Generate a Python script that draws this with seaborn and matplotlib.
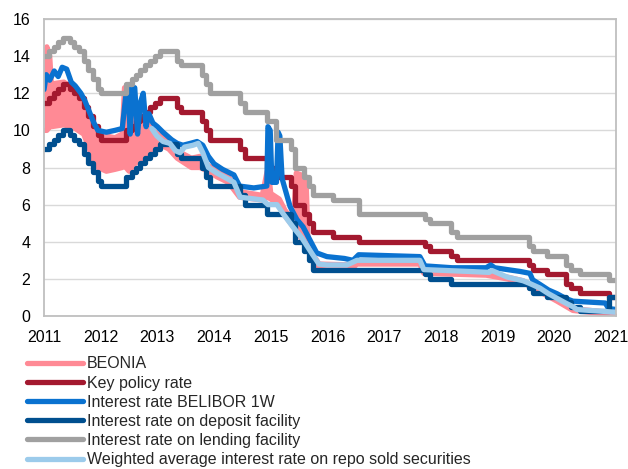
import numpy as np
import pandas as pd
import matplotlib
matplotlib.use('Agg')
import matplotlib.pyplot as plt
import seaborn as sns
from matplotlib.lines import Line2D

# decimal years, values in %
key_dates = [2011.00, 2011.08, 2011.17, 2011.25, 2011.33, 2011.45, 2011.53, 2011.62, 2011.70, 2011.78,
             2011.87, 2011.95, 2012.00, 2012.45, 2012.55, 2012.62, 2012.70, 2012.79, 2012.87, 2012.95,
             2013.05, 2013.35, 2013.42, 2013.78, 2013.85, 2013.92, 2014.45, 2014.55, 2014.93, 2015.10,
             2015.35, 2015.42, 2015.58, 2015.67, 2015.75, 2016.10, 2016.55, 2017.72, 2017.80, 2018.18,
             2018.28, 2019.55, 2019.63, 2019.87, 2020.20, 2020.30, 2020.45, 2020.96, 2021.10]
key_rate = [11.5, 11.75, 12.0, 12.25, 12.5, 12.25, 12.0, 11.75, 11.25, 10.75,
            10.25, 9.75, 9.5, 10.0, 10.25, 10.5, 10.75, 11.0, 11.25, 11.5,
            11.75, 11.25, 11.0, 10.5, 10.0, 9.5, 9.0, 8.5, 8.0, 7.5,
            7.0, 6.0, 5.5, 5.0, 4.5, 4.25, 4.0, 3.75, 3.5, 3.25,
            3.0, 2.75, 2.5, 2.25, 1.75, 1.5, 1.25, 1.0, 1.0]
lending_rate = [14.0, 14.25, 14.5, 14.75, 15.0, 14.75, 14.5, 14.25, 13.75, 13.25,
                12.75, 12.25, 12.0, 12.5, 12.75, 13.0, 13.25, 13.5, 13.75, 14.0,
                14.25, 13.75, 13.5, 13.0, 12.5, 12.0, 11.5, 11.0, 10.5, 9.5,
                9.0, 8.0, 7.5, 7.0, 6.5, 6.25, 5.5, 5.25, 5.0, 4.5,
                4.25, 3.75, 3.5, 3.25, 2.75, 2.5, 2.25, 1.95, 1.95]
deposit_rate = [9.0, 9.25, 9.5, 9.75, 10.0, 9.75, 9.5, 9.25, 8.75, 8.25,
                7.75, 7.25, 7.0, 7.5, 7.75, 8.0, 8.25, 8.5, 8.75, 9.0,
                9.25, 8.75, 8.5, 8.0, 7.5, 7.0, 6.5, 6.0, 5.5, 5.5,
                5.0, 4.0, 3.5, 3.0, 2.5, 2.5, 2.5, 2.25, 2.0, 1.75,
                1.75, 1.5, 1.25, 1.0, 0.75, 0.5, 0.25, 1.0, 1.0]

belibor_dates = [2011.00, 2011.04, 2011.10, 2011.18, 2011.25, 2011.32, 2011.40, 2011.48, 2011.55, 2011.65,
                 2011.72, 2011.80, 2011.88, 2011.95, 2012.10, 2012.25, 2012.38, 2012.44, 2012.48, 2012.52,
                 2012.56, 2012.60, 2012.65, 2012.70, 2012.75, 2012.80, 2012.85, 2012.92, 2013.00, 2013.10,
                 2013.25, 2013.35, 2013.45, 2013.58, 2013.70, 2013.80, 2013.90, 2014.00, 2014.15, 2014.35,
                 2014.45, 2014.70, 2014.93, 2014.95, 2014.99, 2015.02, 2015.10, 2015.13, 2015.16, 2015.20,
                 2015.34, 2015.46, 2015.57, 2015.69, 2015.81, 2015.99, 2016.30, 2016.45, 2016.55, 2017.63,
                 2017.72, 2018.20, 2018.80, 2018.88, 2018.95, 2019.40, 2019.57, 2019.62, 2019.75, 2019.90,
                 2020.05, 2020.20, 2020.33, 2020.90, 2020.96, 2021.10]
belibor = [12.2, 13.0, 12.7, 13.2, 12.9, 13.4, 13.3, 12.6, 12.4, 12.0,
           11.6, 11.0, 10.4, 10.0, 9.9, 10.0, 10.1, 11.8, 12.4, 9.8,
           12.2, 12.3, 9.8, 11.5, 12.0, 10.2, 10.9, 10.4, 10.2, 9.9,
           9.5, 9.3, 9.2, 9.3, 9.4, 9.2, 8.6, 8.2, 7.9, 7.6,
           7.0, 6.9, 7.0, 10.2, 10.0, 7.2, 7.2, 9.9, 9.7, 7.4,
           5.9, 5.2, 4.8, 4.1, 3.4, 3.2, 3.1, 3.0, 3.3, 3.2,
           2.7, 2.6, 2.6, 2.75, 2.6, 2.4, 2.3, 1.95, 1.7, 1.4,
           1.2, 0.95, 0.8, 0.7, 0.4, 0.35]

repo_dates = [2012.90, 2012.99, 2013.10, 2013.22, 2013.32, 2013.40, 2013.48, 2013.63, 2013.72, 2013.80,
              2013.90, 2014.05, 2014.23, 2014.35, 2014.46, 2014.86, 2014.95, 2015.11, 2015.22, 2015.39,
              2015.55, 2015.74, 2015.85, 2015.99, 2016.34, 2016.45, 2016.52, 2017.63, 2017.70, 2018.50,
              2018.85, 2018.90, 2019.17, 2019.45, 2019.57, 2019.75, 2019.90, 2020.05, 2020.20, 2020.33,
              2020.40, 2021.10]
repo_rate = [10.1, 9.7, 9.4, 9.3, 8.9, 8.8, 9.1, 9.2, 9.3, 8.8,
             8.0, 7.7, 7.4, 7.2, 6.4, 6.25, 6.0, 6.0, 5.5, 4.8,
             4.2, 3.3, 2.8, 2.75, 2.75, 2.9, 3.0, 3.0, 2.5, 2.4,
             2.35, 2.45, 2.1, 1.9, 1.75, 1.5, 1.2, 0.95, 0.7, 0.5,
             0.35, 0.2]

beonia_dates = [2011.00, 2011.05, 2011.10, 2011.13, 2011.35, 2011.55, 2011.70, 2011.80, 2011.88, 2011.95,
                2012.10, 2012.25, 2012.38, 2012.42, 2012.50, 2012.60, 2012.70, 2012.80, 2012.92, 2013.00,
                2013.20, 2013.35, 2013.60, 2013.75, 2013.90, 2014.05, 2014.25, 2014.45, 2014.85, 2014.95,
                2015.00, 2015.15, 2015.25, 2015.40, 2015.45, 2015.62, 2015.66, 2015.75, 2015.85, 2016.45,
                2016.52, 2017.63, 2017.70, 2018.80, 2019.17, 2019.45, 2019.75, 2020.05, 2020.33, 2021.10]
beonia_low = [10.0, 10.0, 10.2, 10.2, 10.3, 10.1, 9.8, 9.0, 8.3, 8.0,
              7.8, 7.9, 8.0, 8.1, 7.8, 8.2, 8.4, 8.6, 9.0, 9.3,
              9.0, 8.5, 8.0, 8.0, 7.8, 7.5, 7.2, 6.4, 6.25, 6.4,
              6.3, 6.0, 5.4, 4.8, 4.6, 3.8, 3.6, 3.0, 2.6, 2.6,
              2.8, 2.8, 2.3, 2.2, 2.0, 1.8, 1.3, 0.8, 0.3, 0.05]
beonia_high = [12.0, 14.5, 14.0, 12.5, 12.6, 12.2, 11.5, 10.8, 10.2, 9.9,
               9.7, 9.6, 9.8, 12.3, 11.5, 11.0, 10.8, 10.5, 10.0, 9.8,
               9.4, 8.9, 8.5, 8.6, 8.1, 7.8, 7.5, 6.7, 6.5, 8.0,
               6.6, 6.3, 5.7, 5.1, 7.7, 7.5, 3.9, 3.3, 2.8, 2.75,
               2.9, 2.9, 2.4, 2.3, 2.1, 1.9, 1.4, 0.9, 0.4, 0.15]

year_ticks = list(range(2011, 2022))
labels = ['BEONIA', 'Key policy rate', 'Interest rate BELIBOR 1W',
          'Interest rate on deposit facility', 'Interest rate on lending facility',
          'Weighted average interest rate on repo sold securities']
colors = ['#FF8A95', '#A3192F', '#0A72D0', '#004F8F', '#A0A0A0', '#9CCBEB']

sns.set_style('white')
plt.rcParams['font.family'] = ['Liberation Sans', 'DejaVu Sans']

fig = plt.figure(figsize=(6.28, 4.69), dpi=100)
ax = fig.add_axes([0.0701, 0.3262, 0.9108, 0.6333])

lw = 3.8
ax.fill_between(beonia_dates, beonia_low, beonia_high, color=colors[0], lw=0)
sns.lineplot(x=beonia_dates, y=beonia_low, ax=ax, color=colors[0], lw=lw, estimator=None)
sns.lineplot(x=beonia_dates, y=beonia_high, ax=ax, color=colors[0], lw=lw, estimator=None)
sns.lineplot(x=key_dates, y=key_rate, ax=ax, color=colors[1], lw=lw, estimator=None, drawstyle='steps-post')
sns.lineplot(x=belibor_dates, y=belibor, ax=ax, color=colors[2], lw=lw, estimator=None)
sns.lineplot(x=key_dates, y=deposit_rate, ax=ax, color=colors[3], lw=lw, estimator=None, drawstyle='steps-post')
sns.lineplot(x=key_dates, y=lending_rate, ax=ax, color=colors[4], lw=lw, estimator=None, drawstyle='steps-post')
sns.lineplot(x=repo_dates, y=repo_rate, ax=ax, color=colors[5], lw=lw, estimator=None)

ax.set_xlim(2011, 2021.09)
ax.set_ylim(0, 16)
ax.set_xticks(year_ticks)
ax.set_xticklabels([str(y) for y in year_ticks])
ax.set_yticks(range(0, 17, 2))
ax.set_xlabel('')
ax.set_ylabel('')
ax.yaxis.grid(True, color='#D9D9D9', lw=1)
ax.set_axisbelow(True)
for s in ax.spines.values():
    s.set_color('#BFBFBF')
    s.set_linewidth(1.3)
ax.tick_params(axis='x', length=3, width=1, color='#BFBFBF', pad=7, labelsize=11.5, labelcolor='black')
ax.tick_params(axis='y', length=0, pad=10, labelsize=11.5, labelcolor='black')

handles = [Line2D([0], [0], color=c, lw=3.8, solid_capstyle='round') for c in colors]
fig.legend(handles, labels, loc='upper left', bbox_to_anchor=(0.043, 0.240), frameon=False,
           fontsize=11.5, handlelength=3.5, handletextpad=0.25, labelspacing=0.26,
           borderpad=0, borderaxespad=0)

fig.savefig('out.png', dpi=100)
